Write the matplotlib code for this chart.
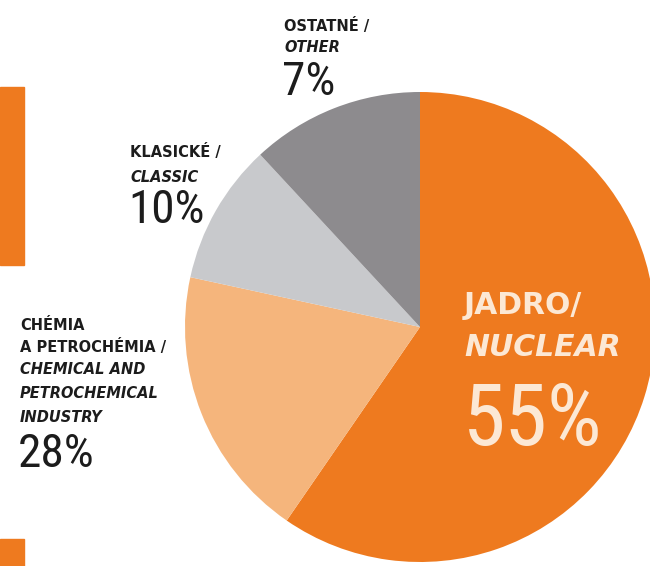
import matplotlib.pyplot as plt
from matplotlib import font_manager
from matplotlib.patches import Rectangle

# wedge shares as drawn in the picture (angles measured), and the printed labels
categories = ["JADRO/ NUCLEAR", "CHÉMIA A PETROCHÉMIA", "KLASICKÉ", "OSTATNÉ"]
drawn_share = [59.6, 18.8, 9.7, 11.9]
label_pct = ["55%", "28%", "10%", "7%"]
colors = ["#EE7A1F", "#F5B57C", "#C8C9CC", "#8D8B8E"]

names = {f.name for f in font_manager.fontManager.ttflist}
cond = next((n for n in ["Roboto Condensed", "Liberation Sans Narrow", "DejaVu Sans Condensed"]
             if n in names), None)

W, H = 650, 566
fig = plt.figure(figsize=(W / 100, H / 100), dpi=100)
fig.patch.set_facecolor("white")

def fx(x):
    return x / W

def fy(y):
    return 1 - y / H

# pie centred at (420, 327) px, radius 235 px
cx, cy, r = 420, 327, 235
ax = fig.add_axes([fx(cx - r), fy(cy + r), 2 * r / W, 2 * r / H])
ax.pie(drawn_share, colors=colors, startangle=90, counterclock=False,
       radius=1, wedgeprops=dict(linewidth=0))
ax.set_xlim(-1, 1)
ax.set_ylim(-1, 1)
ax.set_aspect("equal")
ax.axis("off")

# orange side bars
fig.patches.append(Rectangle((0, fy(265)), fx(24), (265 - 87) / H,
                             transform=fig.transFigure, color="#EE7A1F", zorder=0))
fig.patches.append(Rectangle((0, 0), fx(24), (566 - 539) / H,
                             transform=fig.transFigure, color="#EE7A1F", zorder=0))

lab = dict(family=["DejaVu Sans"], fontweight="bold", fontsize=10.5,
           color="#1c1c1c", va="center", ha="left")
if cond:
    pct = dict(family=[cond, "DejaVu Sans"], fontsize=34, color="#1c1c1c",
               va="center", ha="left")
    big_pct = 62
else:
    pct = dict(family=["DejaVu Sans"], fontsize=26, color="#1c1c1c",
               va="center", ha="left")
    big_pct = 45

# OSTATNE / OTHER
fig.text(fx(284), fy(26), "OSTATNÉ /", **lab)
fig.text(fx(284), fy(47), "OTHER", style="italic", **lab)
fig.text(fx(282), fy(82), label_pct[3], **pct)

# KLASICKE / CLASSIC
fig.text(fx(130), fy(152), "KLASICKÉ /", **lab)
fig.text(fx(130), fy(177), "CLASSIC", style="italic", **lab)
fig.text(fx(128), fy(210), label_pct[2], **pct)

# CHEMIA
fig.text(fx(20), fy(325), "CHÉMIA", **lab)
fig.text(fx(20), fy(347), "A PETROCHÉMIA /", **lab)
fig.text(fx(20), fy(369), "CHEMICAL AND", style="italic", **lab)
fig.text(fx(20), fy(393), "PETROCHEMICAL", style="italic", **lab)
fig.text(fx(20), fy(417), "INDUSTRY", style="italic", **lab)
fig.text(fx(18), fy(454), label_pct[1], **pct)

# JADRO / NUCLEAR
big = dict(family=["DejaVu Sans"], fontsize=21.5, fontweight="bold",
           color="#FCE8D4", va="center", ha="left")
fig.text(fx(464), fy(306), "JADRO/", **big)
fig.text(fx(464), fy(348), "NUCLEAR", style="italic", **big)
fig.text(fx(463), fy(422), label_pct[0], family=pct["family"], fontsize=big_pct,
         color="#FCE8D4", va="center", ha="left")

fig.savefig("out.png", dpi=100, facecolor="white")
